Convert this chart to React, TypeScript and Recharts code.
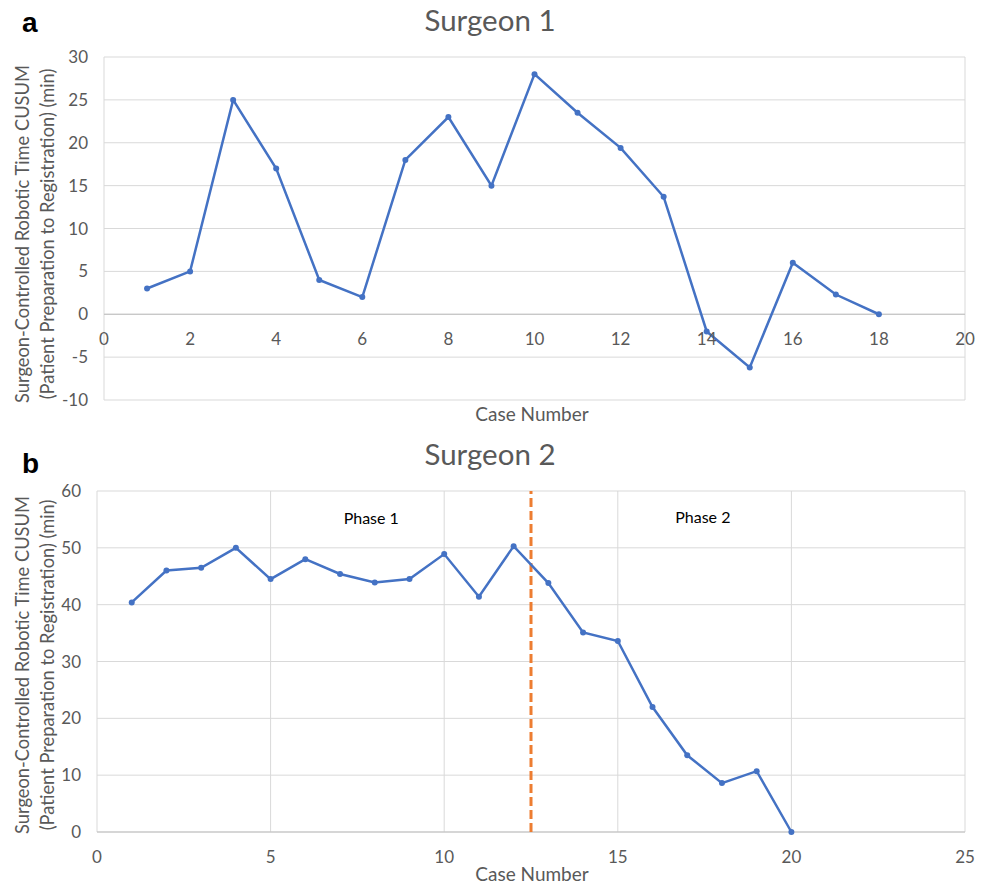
import React from 'react';
import {
  LineChart,
  Line,
  XAxis,
  YAxis,
  CartesianGrid,
  ReferenceLine,
  ReferenceDot,
} from 'recharts';

// ---------- Data ----------
const caseNumbers1 = [1, 2, 3, 4, 5, 6, 7, 8, 9, 10, 11, 12, 13, 14, 15, 16, 17, 18];
const cusum1 = [3, 5, 25, 17, 4, 2, 18, 23, 15, 28, 23.5, 19.4, 13.7, -2, -6.2, 6, 2.3, 0];

const caseNumbers2 = [1, 2, 3, 4, 5, 6, 7, 8, 9, 10, 11, 12, 13, 14, 15, 16, 17, 18, 19, 20];
const cusum2 = [40.4, 46, 46.5, 50, 44.5, 48, 45.4, 43.9, 44.5, 48.9, 41.4, 50.3, 43.8, 35.1, 33.6, 22, 13.5, 8.6, 10.7, 0];

const xTicks1 = [0, 2, 4, 6, 8, 10, 12, 14, 16, 18, 20];
const yTicks1 = [-10, -5, 0, 5, 10, 15, 20, 25, 30];
const xTicks2 = [0, 5, 10, 15, 20, 25];
const yTicks2 = [0, 10, 20, 30, 40, 50, 60];

const phaseBoundary = 12.5;
const phaseLabels = [
  { x: 7.9, y: 55.2, text: 'Phase 1' },
  { x: 17.45, y: 55.3, text: 'Phase 2' },
];

const titles = ['Surgeon 1', 'Surgeon 2'];
const panelLetters = ['a', 'b'];
const xAxisTitle = 'Case Number';
const yAxisTitleLines = ['Surgeon-Controlled Robotic Time CUSUM', '(Patient Preparation to Registration) (min)'];

const data1 = caseNumbers1.map((x, i) => ({ x, y: cusum1[i] }));
const data2 = caseNumbers2.map((x, i) => ({ x, y: cusum2[i] }));

// ---------- Styles ----------
const FONT = 'Lato, "Open Sans", sans-serif';
const TEXT = '#595959';
const GRID = '#d9d9d9';
const BLUE = '#4472C4';
const ORANGE = '#ED7D31';

const tickStyle = { fill: TEXT, fontSize: 17, fontFamily: FONT };

export default function App() {
  return (
    <div style={{ position: 'relative', width: 989, height: 893, margin: -8, background: '#fff' }}>
      {/* Top chart */}
      <div style={{ position: 'absolute', left: 0, top: 0 }}>
        <LineChart width={989} height={430} data={data1} margin={{ top: 57, right: 24, bottom: 0, left: 0 }}>
          <CartesianGrid stroke={GRID} strokeWidth={1} />
          <XAxis
            dataKey="x"
            type="number"
            domain={[0, 20]}
            ticks={xTicks1}
            tick={false}
            axisLine={false}
            tickLine={false}
            height={30}
          />
          <YAxis
            type="number"
            domain={[-10, 30]}
            ticks={yTicks1}
            axisLine={false}
            tickLine={false}
            width={104}
            tickMargin={10}
            tick={tickStyle}
          />
          <ReferenceLine y={0} stroke="#bfbfbf" strokeWidth={1.2} />
          {xTicks1.map((t) => (
            <ReferenceDot
              key={t}
              x={t}
              y={0}
              r={0}
              fill="none"
              stroke="none"
              label={{ value: String(t), position: 'bottom', offset: 19, fill: TEXT, fontSize: 17, fontFamily: FONT }}
            />
          ))}
          <Line
            type="linear"
            dataKey="y"
            stroke={BLUE}
            strokeWidth={2.5}
            dot={{ r: 3, fill: BLUE, stroke: BLUE, strokeWidth: 0 }}
            isAnimationActive={false}
          />
        </LineChart>
      </div>

      {/* Bottom chart */}
      <div style={{ position: 'absolute', left: 0, top: 440 }}>
        <LineChart width={989} height={453} data={data2} margin={{ top: 51, right: 24, bottom: 0, left: 0 }}>
          <CartesianGrid stroke={GRID} strokeWidth={1} />
          <XAxis
            dataKey="x"
            type="number"
            domain={[0, 25]}
            ticks={xTicks2}
            axisLine={false}
            tickLine={false}
            height={61}
            tickMargin={13}
            tick={tickStyle}
          />
          <YAxis
            type="number"
            domain={[0, 60]}
            ticks={yTicks2}
            axisLine={false}
            tickLine={false}
            width={97}
            tickMargin={10}
            tick={tickStyle}
          />
          <ReferenceLine y={0} stroke="#bfbfbf" strokeWidth={1.2} />
          <ReferenceLine x={phaseBoundary} stroke={ORANGE} strokeWidth={3} strokeDasharray="9 4" />
          {phaseLabels.map((p) => (
            <ReferenceDot
              key={p.text}
              x={p.x}
              y={p.y}
              r={0}
              fill="none"
              stroke="none"
              label={{ value: p.text, position: 'center', fill: '#000', fontSize: 16, fontFamily: FONT }}
            />
          ))}
          <Line
            type="linear"
            dataKey="y"
            stroke={BLUE}
            strokeWidth={2.5}
            dot={{ r: 3, fill: BLUE, stroke: BLUE, strokeWidth: 0 }}
            isAnimationActive={false}
          />
        </LineChart>
      </div>

      {/* Text overlay */}
      <svg width={989} height={893} style={{ position: 'absolute', left: 0, top: 0, pointerEvents: 'none' }}>
        <text x={22} y={32} fontFamily='"Liberation Sans", Arial, sans-serif' fontWeight="bold" fontSize={28} fill="#000">
          {panelLetters[0]}
        </text>
        <text x={22} y={473} fontFamily='"Liberation Sans", Arial, sans-serif' fontWeight="bold" fontSize={28} fill="#000">
          {panelLetters[1]}
        </text>
        <text x={490} y={31} textAnchor="middle" fontFamily={FONT} fontSize={29.5} fill={TEXT}>
          {titles[0]}
        </text>
        <text x={490} y={465} textAnchor="middle" fontFamily={FONT} fontSize={29.5} fill={TEXT}>
          {titles[1]}
        </text>
        <text x={532} y={421} textAnchor="middle" fontFamily={FONT} fontSize={19} fill={TEXT}>
          {xAxisTitle}
        </text>
        <text x={532} y={881} textAnchor="middle" fontFamily={FONT} fontSize={19} fill={TEXT}>
          {xAxisTitle}
        </text>
        {[234, 665].map((cy, k) => (
          <g key={k}>
            {yAxisTitleLines.map((line, i) => (
              <text
                key={i}
                x={0}
                y={0}
                transform={`translate(${22 + i * 25}, ${cy}) rotate(-90)`}
                textAnchor="middle"
                dominantBaseline="central"
                fontFamily={FONT}
                fontSize={18.3}
                fill={TEXT}
              >
                {line}
              </text>
            ))}
          </g>
        ))}
      </svg>
    </div>
  );
}
